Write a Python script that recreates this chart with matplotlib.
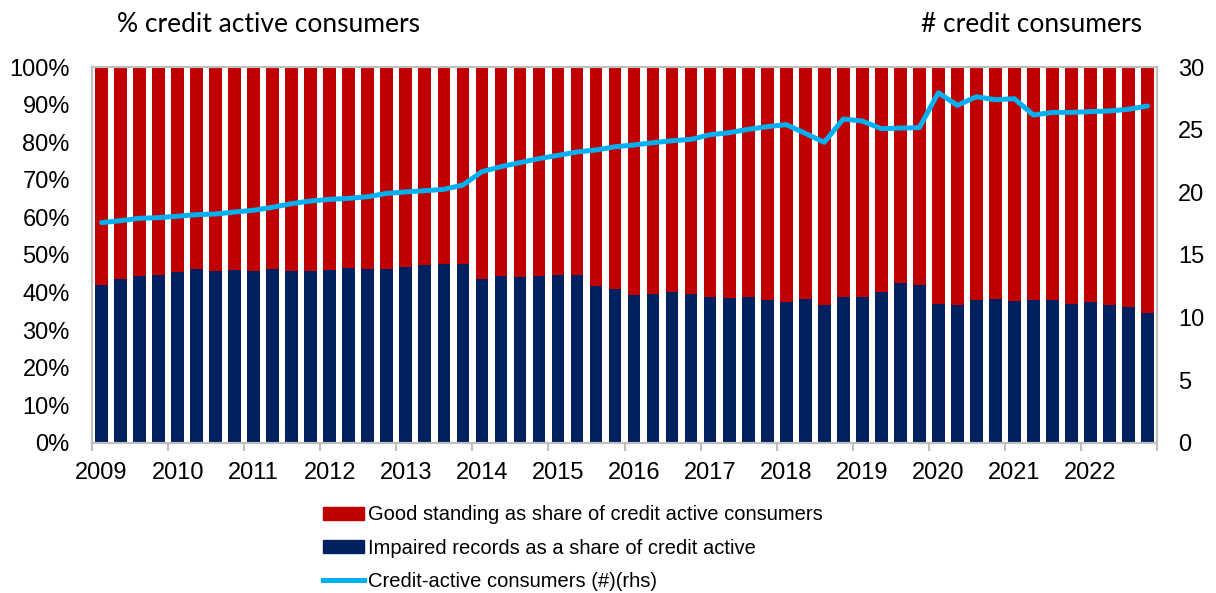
import numpy as np
import matplotlib
matplotlib.use('Agg')
import matplotlib.pyplot as plt
from matplotlib.patches import Patch
from matplotlib.lines import Line2D

# quarterly data, 2009 Q1 - 2022 Q4
years = list(range(2009, 2023))
impaired = [0.419, 0.436, 0.444, 0.447, 0.455, 0.463, 0.457, 0.460, 0.458, 0.462,
            0.457, 0.457, 0.459, 0.465, 0.464, 0.463, 0.469, 0.474, 0.477, 0.477,
            0.437, 0.445, 0.442, 0.445, 0.446, 0.446, 0.418, 0.410, 0.394, 0.396,
            0.401, 0.396, 0.387, 0.386, 0.388, 0.379, 0.376, 0.384, 0.368, 0.387,
            0.389, 0.402, 0.425, 0.420, 0.370, 0.366, 0.379, 0.382, 0.377, 0.379,
            0.379, 0.370, 0.374, 0.367, 0.361, 0.346]
consumers = [17.58, 17.74, 17.93, 17.98, 18.09, 18.22, 18.27, 18.43, 18.57, 18.81,
             19.10, 19.31, 19.44, 19.52, 19.65, 19.92, 20.03, 20.13, 20.24, 20.58,
             21.65, 22.05, 22.37, 22.69, 22.95, 23.22, 23.38, 23.64, 23.78, 23.96,
             24.12, 24.23, 24.60, 24.76, 25.03, 25.24, 25.40, 24.71, 23.99, 25.85,
             25.69, 25.08, 25.13, 25.16, 27.95, 26.94, 27.63, 27.39, 27.47, 26.17,
             26.38, 26.38, 26.44, 26.49, 26.63, 26.89]

good = [1 - v for v in impaired]
x = np.arange(len(impaired))

red = '#C00000'
navy = '#002060'
blue = '#00B0F0'
grey = '#BFBFBF'

plt.rcParams['font.family'] = ['Liberation Sans', 'DejaVu Sans']

fig = plt.figure(figsize=(12.16, 5.93), dpi=100)
ax = fig.add_axes([0.0757, 0.253, 0.8758, 0.634])

ax.bar(x, impaired, width=0.67, color=navy, zorder=2)
ax.bar(x, good, width=0.67, bottom=impaired, color=red, zorder=2)

ax.set_xlim(-0.5, len(x) - 0.5)
ax.set_ylim(0, 1)
ax.set_yticks(np.arange(0, 1.01, 0.1))
ax.set_yticklabels([f'{int(round(v * 100))}%' for v in np.arange(0, 1.01, 0.1)])
ax.tick_params(axis='y', length=0, pad=16, labelsize=17)

# year ticks between groups, labels on first quarter
ax.set_xticks(np.arange(-0.5, len(x), 4))
ax.set_xticklabels([])
ax.set_xticks(np.arange(0, len(x), 4), minor=True)
ax.set_xticklabels([str(y) for y in years], minor=True)
ax.tick_params(axis='x', which='major', length=6, color=grey, width=1.5)
ax.tick_params(axis='x', which='minor', length=0, pad=14, labelsize=17)

for s in ax.spines.values():
    s.set_color(grey)
    s.set_linewidth(1.5)

ax2 = ax.twinx()
ax2.plot(x, consumers, color=blue, lw=3.6, solid_capstyle='round', zorder=3)
ax2.set_ylim(0, 30)
ax2.set_yticks(range(0, 31, 5))
ax2.tick_params(axis='y', length=0, pad=15, labelsize=17)
for s in ax2.spines.values():
    s.set_color(grey)
    s.set_linewidth(1.5)

fig.text(0.221, 0.958, '% credit active consumers', ha='center', va='center',
         fontsize=19, family='Lato')
fig.text(0.848, 0.958, '# credit consumers', ha='center', va='center',
         fontsize=19, family='Lato')

handles = [Patch(color=red), Patch(color=navy), Line2D([], [], color=blue, lw=3.6)]
labels = ['Good standing as share of credit active consumers',
          'Impaired records as a share of credit active',
          'Credit-active consumers (#)(rhs)']
fig.legend(handles, labels, loc='upper left', bbox_to_anchor=(0.257, 0.165),
           frameon=False, fontsize=14.5, handlelength=2.05, handleheight=0.6,
           handletextpad=0.2, labelspacing=0.72, borderpad=0)

fig.savefig('out.png', dpi=100)
